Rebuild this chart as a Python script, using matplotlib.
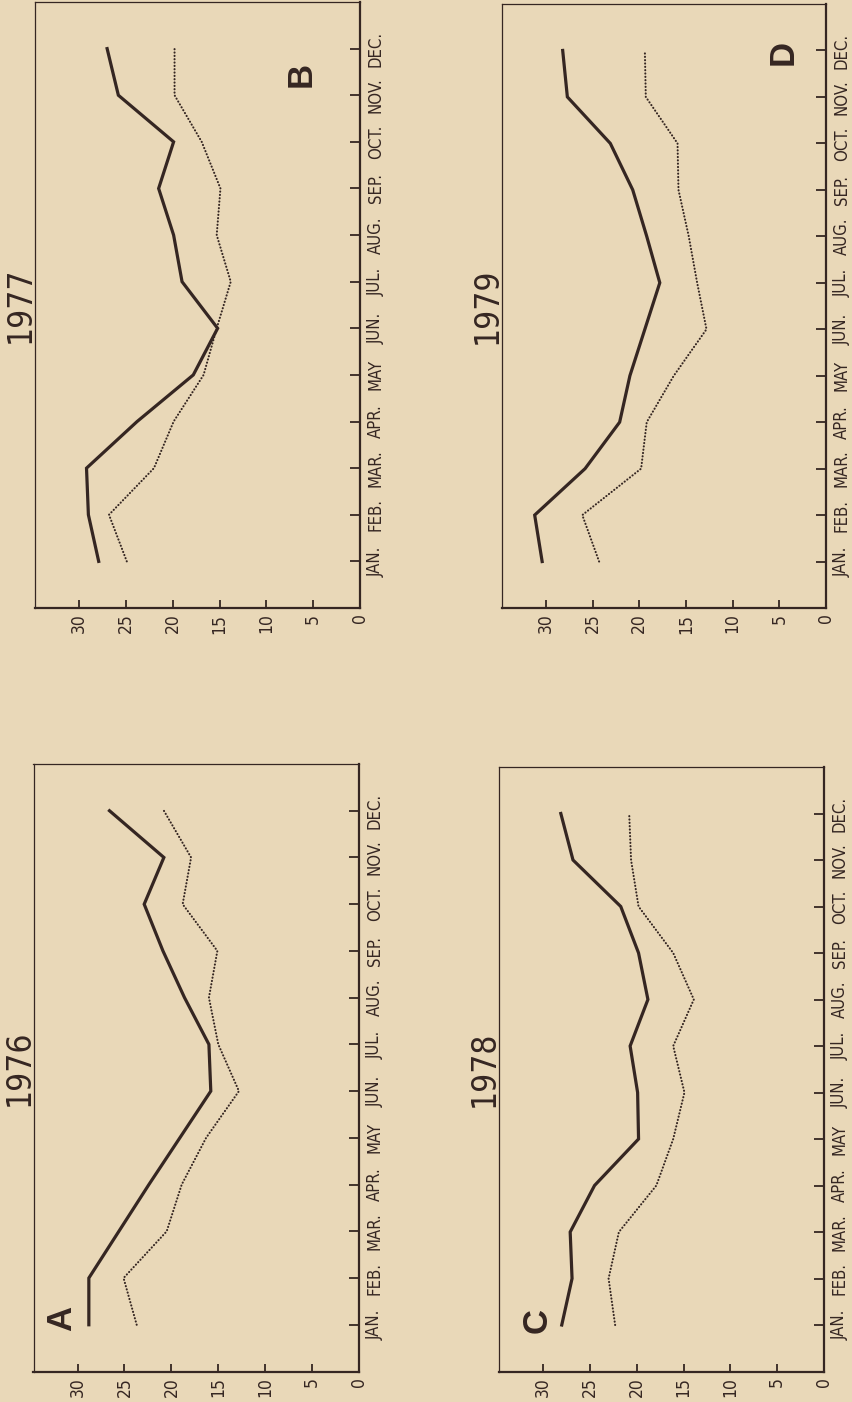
import numpy as np
import matplotlib
matplotlib.use('Agg')
import matplotlib.pyplot as plt
from matplotlib import font_manager

# monthly values
months = ['JAN.', 'FEB.', 'MAR.', 'APR.', 'MAY', 'JUN.',
          'JUL.', 'AUG.', 'SEP.', 'OCT.', 'NOV.', 'DEC.']
value_ticks = [0, 5, 10, 15, 20, 25, 30]

solid_1976 = [28.8, 28.8, 25.6, 22.4, 19.1, 15.8, 16.0, 18.6, 20.9, 22.9, 20.8, 26.6]
dotted_1976 = [23.7, 25.1, 20.5, 18.9, 16.3, 12.8, 15.0, 16.0, 15.1, 18.8, 17.9, 20.8]
solid_1977 = [27.9, 29.0, 29.2, 23.8, 17.8, 15.2, 19.0, 19.9, 21.5, 19.9, 25.8, 27.0]
dotted_1977 = [24.9, 26.8, 22.0, 19.9, 16.7, 15.3, 13.8, 15.3, 14.9, 16.9, 19.8, 19.8]
solid_1978 = [28.0, 26.9, 27.1, 24.5, 19.8, 19.9, 20.7, 18.8, 19.8, 21.7, 26.8, 28.1]
dotted_1978 = [22.3, 23.0, 21.9, 17.9, 16.1, 14.9, 16.1, 13.9, 16.1, 19.8, 20.6, 20.8]
solid_1979 = [30.4, 31.2, 25.8, 22.1, 21.0, 19.4, 17.8, 19.2, 20.7, 23.1, 27.7, 28.2]
dotted_1979 = [24.3, 26.1, 19.8, 19.2, 16.3, 12.8, 13.8, 14.7, 15.8, 15.9, 19.3, 19.4]

BG = '#e9d8b8'
INK = '#352622'

names = {f.name for f in font_manager.fontManager.ttflist}
if 'Liberation Sans Narrow' in names:
    LBL = dict(family='Liberation Sans Narrow')
else:
    LBL = dict(family='DejaVu Sans', fontstretch='condensed')


def draw_panel(fig, rect, year, letter, solid, dotted, letter_pos):
    ax = fig.add_axes(rect)
    ax.set_facecolor(BG)
    m = np.arange(1, 13)
    # the page is turned: values run right-to-left, months bottom-to-top
    ax.plot(solid, m, color=INK, lw=2.3, solid_joinstyle='miter')
    ax.plot(dotted, m, color=INK, lw=1.5, linestyle=(0, (0.1, 1.5)),
            dash_capstyle='round')
    ax.set_xlim(34.7, 0)
    ax.set_ylim(0, 13)

    ax.set_xticks(value_ticks)
    ax.set_xticklabels([str(v) for v in value_ticks], rotation=90,
                       fontsize=12.5, color=INK, **LBL)
    ax.yaxis.tick_right()
    ax.set_yticks(m)
    ax.set_yticklabels(months, rotation=90, fontsize=12, color=INK,
                       va='center', **LBL)
    ax.tick_params(axis='x', direction='in', length=6, width=1.3, pad=4,
                   color=INK)
    ax.tick_params(axis='y', direction='in', length=7, width=1.3, pad=5,
                   color=INK)

    for side in ['top', 'left']:
        ax.spines[side].set_linewidth(0.9)
        ax.spines[side].set_color(INK)
    for side in ['bottom', 'right']:
        ax.spines[side].set_linewidth(1.6)
        ax.spines[side].set_color(INK)

    ax.text(-0.045, 0.5, year, transform=ax.transAxes, rotation=90,
            ha='center', va='center', fontsize=24, color=INK,
            fontweight='light', **LBL)
    ax.text(letter_pos[0], letter_pos[1], letter, rotation=90,
            ha='center', va='center', family='Liberation Sans',
            fontweight='bold', fontsize=25, color=INK)
    return ax


fig = plt.figure(figsize=(8.52, 14.02), dpi=100)
fig.patch.set_facecolor(BG)

W, H = 852.0, 1402.0


def px_rect(left, right, top, bottom):
    return [left / W, 1 - bottom / H, (right - left) / W, (bottom - top) / H]


draw_panel(fig, px_rect(35, 360, 2, 608), '1977', 'B',
           solid_1977, dotted_1977, (6.3, 11.45))
draw_panel(fig, px_rect(502, 826, 4, 608), '1979', 'D',
           solid_1979, dotted_1979, (4.6, 11.95))
draw_panel(fig, px_rect(33.5, 359, 764, 1371.5), '1976', 'A',
           solid_1976, dotted_1976, (31.7, 1.13))
draw_panel(fig, px_rect(499, 824, 767, 1371.5), '1978', 'C',
           solid_1978, dotted_1978, (30.6, 1.1))

fig.savefig('out.png', dpi=100, facecolor=BG)
